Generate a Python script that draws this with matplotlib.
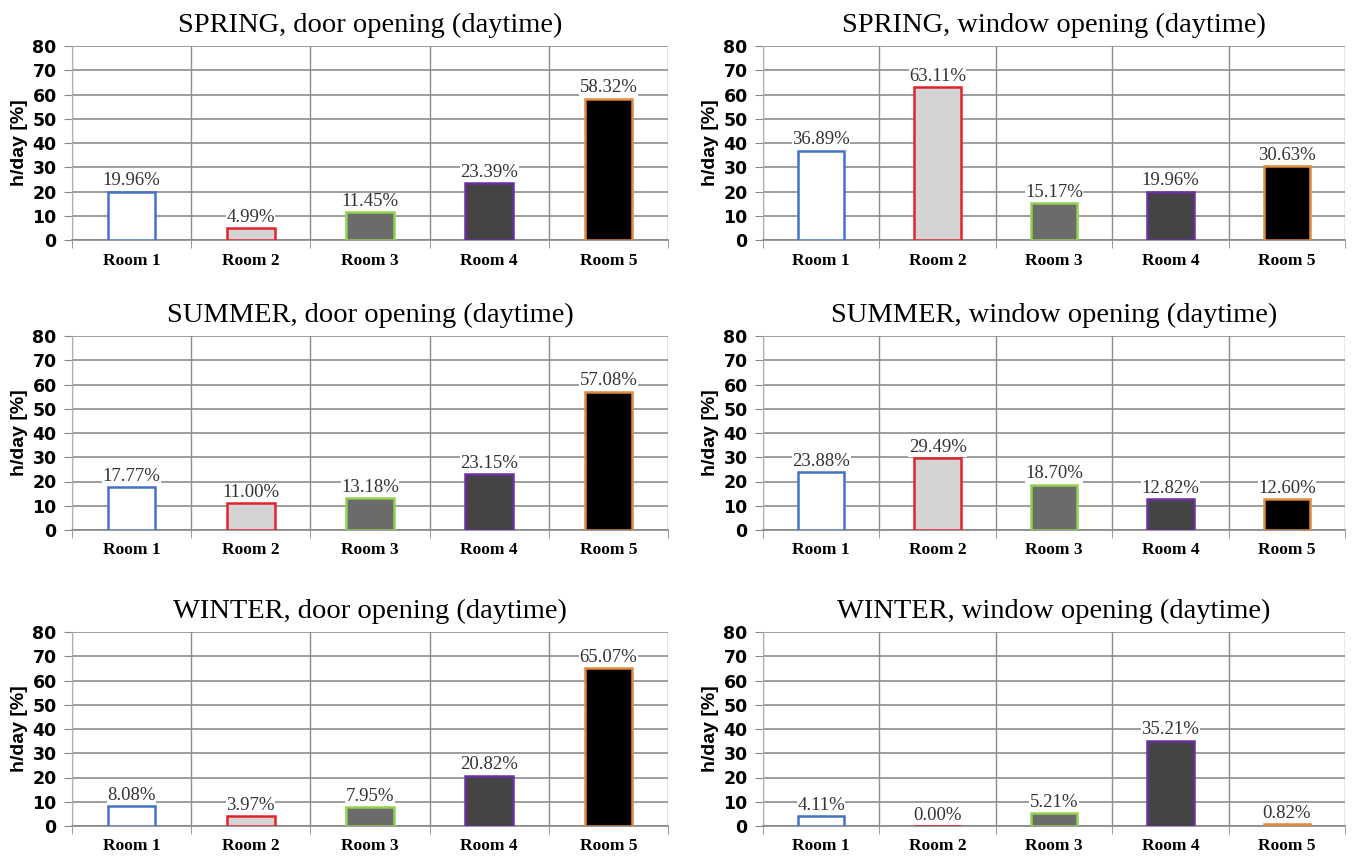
import numpy as np
import matplotlib.pyplot as plt

rooms = ['Room 1', 'Room 2', 'Room 3', 'Room 4', 'Room 5']
titles = ['SPRING, door opening (daytime)', 'SPRING, window opening (daytime)',
          'SUMMER, door opening (daytime)', 'SUMMER, window opening (daytime)',
          'WINTER, door opening (daytime)', 'WINTER, window opening (daytime)']
spring_door = [19.96, 4.99, 11.45, 23.39, 58.32]
spring_window = [36.89, 63.11, 15.17, 19.96, 30.63]
summer_door = [17.77, 11.00, 13.18, 23.15, 57.08]
summer_window = [23.88, 29.49, 18.70, 12.82, 12.60]
winter_door = [8.08, 3.97, 7.95, 20.82, 65.07]
winter_window = [4.11, 0.00, 5.21, 35.21, 0.82]
series = [spring_door, spring_window, summer_door, summer_window, winter_door, winter_window]

fills = ['white', '#d4d4d4', '#6b6b6b', '#444444', '#000000']
edges = ['#4472c4', '#e0242a', '#92d050', '#6a2fa0', '#e08a3c']

W, H = 1352, 858
fig = plt.figure(figsize=(W / 100, H / 100), dpi=100)

# axes boxes in pixels: left, right, top(80), bottom(0)
cols = [(72, 668), (763, 1345)]
rows = [(46, 240), (336, 530), (632, 826)]

for i, vals in enumerate(series):
    l, r = cols[i % 2]
    t, b = rows[i // 2]
    ax = fig.add_axes([l / W, 1 - b / H, (r - l) / W, (b - t) / H])
    x = np.arange(len(rooms))
    ax.bar(x, vals, width=0.4, color=fills, edgecolor=edges, linewidth=1.8, zorder=3)
    # value labels sit on a white box that hides the gridline
    for xi, v in zip(x, vals):
        ax.text(xi, v + 0.9, f'{v:.2f}%', ha='center', va='bottom', family='Liberation Serif',
                fontsize=13.5, color='#333333', zorder=4,
                bbox=dict(facecolor='white', edgecolor='none', pad=0.3))
    ax.set_xlim(-0.5, 4.5)
    ax.set_ylim(0, 80)
    ax.set_yticks(range(0, 81, 10))
    ax.set_xticks(x)
    ax.set_xticklabels(rooms, family='Liberation Serif', fontweight='bold', fontsize=12.5)
    ax.set_xticks(np.arange(-0.5, 5, 1), minor=True)
    ax.tick_params(axis='x', which='major', length=0, pad=9)
    ax.tick_params(axis='x', which='minor', length=6, color='#888888')
    ax.tick_params(axis='y', length=6, color='#888888', labelsize=12.5, pad=5)
    for lab in ax.get_yticklabels():
        lab.set_fontweight('bold')
        lab.set_family('Liberation Sans Narrow')
    ax.grid(axis='y', color='#8c8c8c', linewidth=1.2, zorder=0)
    ax.grid(axis='x', which='minor', color='#8c8c8c', linewidth=1.0, zorder=0)
    for s in ['top', 'right']:
        ax.spines[s].set_visible(False)
    ax.spines['left'].set_color('#b0b0b0')
    ax.spines['bottom'].set_color('#888888')
    ax.spines['bottom'].set_linewidth(1.2)
    ax.set_ylabel('h/day [%]', fontweight='bold', fontsize=14, family='Liberation Sans', labelpad=3)
    ax.set_title(titles[i], family='Liberation Serif', fontsize=20.5, pad=10)

fig.savefig('out.png', dpi=100, facecolor='white')
